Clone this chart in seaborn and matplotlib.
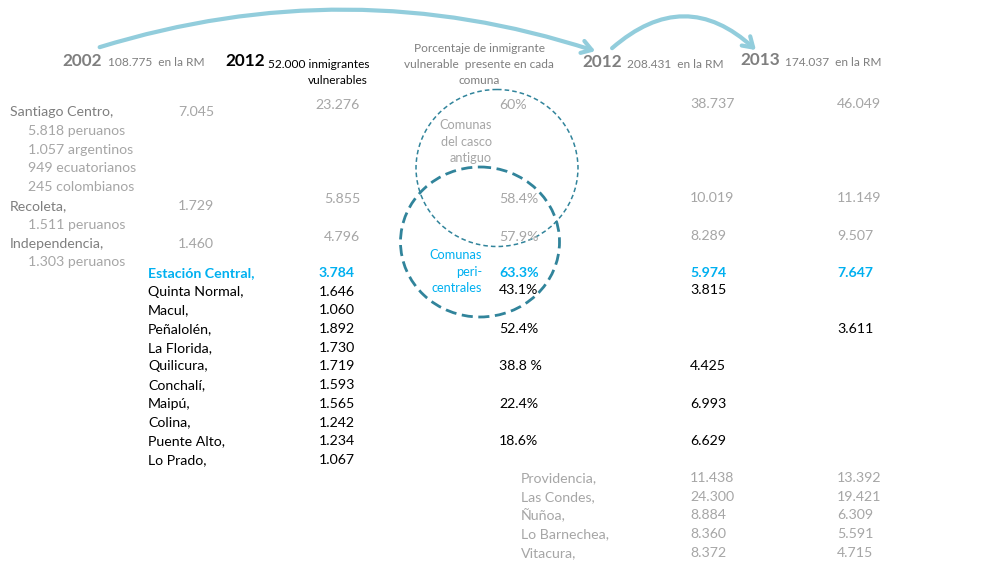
import matplotlib.pyplot as plt
import seaborn as sns
from matplotlib.patches import Ellipse, FancyArrowPatch

sns.set_style("white")
plt.rcParams['font.family'] = ['Lato', 'DejaVu Sans']

GREY_D = '#7f7f7f'
GREY_L = '#a6a6a6'
BLUE = '#00b0f0'
TEAL = '#31849b'
ARROW = '#92cddc'

# Comunas del casco antiguo (grey block)
old_names = ['Santiago Centro,', 'Recoleta,', 'Independencia,']
old_sub = [['5.818 peruanos', '1.057 argentinos', '949 ecuatorianos', '245 colombianos'],
           ['1.511 peruanos'], ['1.303 peruanos']]
old_2002 = ['7.045', '1.729', '1.460']
old_2012v = ['23.276', '5.855', '4.796']
old_pct = ['60%', '58.4%', '57.9%']
old_2012 = ['38.737', '10.019', '8.289']
old_2013 = ['46.049', '11.149', '9.507']

# Comunas pericentrales / periféricas (black block)
peri_names = ['Estación Central,', 'Quinta Normal,', 'Macul,', 'Peñalolén,', 'La Florida,',
              'Quilicura,', 'Conchalí,', 'Maipú,', 'Colina,', 'Puente Alto,', 'Lo Prado,']
peri_2012v = ['3.784', '1.646', '1.060', '1.892', '1.730', '1.719', '1.593', '1.565',
              '1.242', '1.234', '1.067']
pct_list = ['63.3%', '43.1%', '52.4%', '38.8 %', '22.4%', '18.6%']
pct_rows = [0, 1, 3, 5, 7, 9]
rm2012_list = ['5.974', '3.815', '4.425', '6.993', '6.629']
rm2012_rows = [0, 1, 5, 7, 9]
rm2013_list = ['7.647', '3.611']
rm2013_rows = [0, 3]

# Comunas del sector oriente (grey block bottom)
east_names = ['Providencia,', 'Las Condes,', 'Ñuñoa,', 'Lo Barnechea,', 'Vitacura,']
east_2012 = ['11.438', '24.300', '8.884', '8.360', '8.372']
east_2013 = ['13.392', '19.421', '6.309', '5.591', '4.715']

fig = plt.figure(figsize=(9.88, 5.64), dpi=100)
ax = fig.add_axes([0, 0, 1, 1])
ax.set_xlim(0, 988)
ax.set_ylim(564, 0)
ax.axis('off')

FS = 10.2
SUB = 8.6
YEAR = 12.3

def txt(x, y, s, c='black', size=FS, ha='left', w='normal'):
    ax.text(x, y, s, color=c, fontsize=size, ha=ha, va='center', fontweight=w)

# headers
txt(62, 61, '2002', GREY_D, YEAR, w='bold')
txt(108, 63, '108.775  en la RM', GREY_D, SUB)
txt(225, 61, '2012', 'black', YEAR, w='bold')
txt(268, 64, '52.000 inmigrantes', 'black', SUB)
txt(368, 81, 'vulnerables', 'black', SUB, ha='right')
for i, line in enumerate(['Porcentaje de inmigrante', 'vulnerable  presente en cada', 'comuna']):
    txt(479, 48 + i * 16, line, GREY_D, SUB, ha='center')
txt(582, 62, '2012', GREY_D, YEAR, w='bold')
txt(627, 64, '208.431  en la RM', GREY_D, SUB)
txt(740, 60, '2013', GREY_D, YEAR, w='bold')
txt(785, 62, '174.037  en la RM', GREY_D, SUB)

# grey block
y = 112
STEP = 18.8
for i, name in enumerate(old_names):
    txt(10, y, name, GREY_D)
    txt(178, y, old_2002[i], GREY_L)
    txt(360, y - 7, old_2012v[i], GREY_L, ha='right')
    txt(499, y - 7, old_pct[i], GREY_L)
    txt(690, y - 8, old_2012[i], GREY_L)
    txt(837, y - 8, old_2013[i], GREY_L)
    for s in old_sub[i]:
        y += STEP
        txt(28, y, s, GREY_L)
    y += STEP

# black block
y0 = 273
PSTEP = 18.7
for i, name in enumerate(peri_names):
    c, w = (BLUE, 'bold') if i == 0 else ('black', 'normal')
    txt(148, y0 + i * PSTEP, name, c, w=w)
    txt(355, y0 + i * PSTEP, peri_2012v[i], c, ha='right', w=w)
for lst, rows, x in [(pct_list, pct_rows, 499), (rm2012_list, rm2012_rows, 690),
                     (rm2013_list, rm2013_rows, 837)]:
    for s, r in zip(lst, rows):
        c, w = (BLUE, 'bold') if r == 0 else ('black', 'normal')
        txt(x, y0 + r * PSTEP - (2 if r == 1 else 0), s, c, w=w)

# grey east block
for i, name in enumerate(east_names):
    yy = 478 + i * PSTEP
    txt(521, yy, name, GREY_L)
    txt(690, yy, east_2012[i], GREY_L)
    txt(837, yy, east_2013[i], GREY_L)

# circles
ax.add_patch(Ellipse((497, 168), 162, 157, fill=False, ec=TEAL, lw=1.1, ls=(0, (3, 2))))
ax.add_patch(Ellipse((480, 242), 159, 150, fill=False, ec=TEAL, lw=2.0, ls=(0, (4, 2))))
for i, s in enumerate(['Comunas', 'del casco', 'antiguo']):
    txt(492, 125 + i * 16.5, s, GREY_L, 9.2, ha='right')
for i, s in enumerate(['Comunas', 'peri-', 'centrales']):
    txt(482, 255 + i * 16.5, s, BLUE, 9.2, ha='right')

# arrows
for a, b, rad in [((97, 48), (598, 52), -0.16), ((610, 50), (758, 52), -0.46)]:
    ax.add_patch(FancyArrowPatch(a, b, connectionstyle=f'arc3,rad={rad}',
                                 arrowstyle='->,head_length=7,head_width=4.5',
                                 color=ARROW, lw=3))

fig.savefig('out.png', dpi=100)
